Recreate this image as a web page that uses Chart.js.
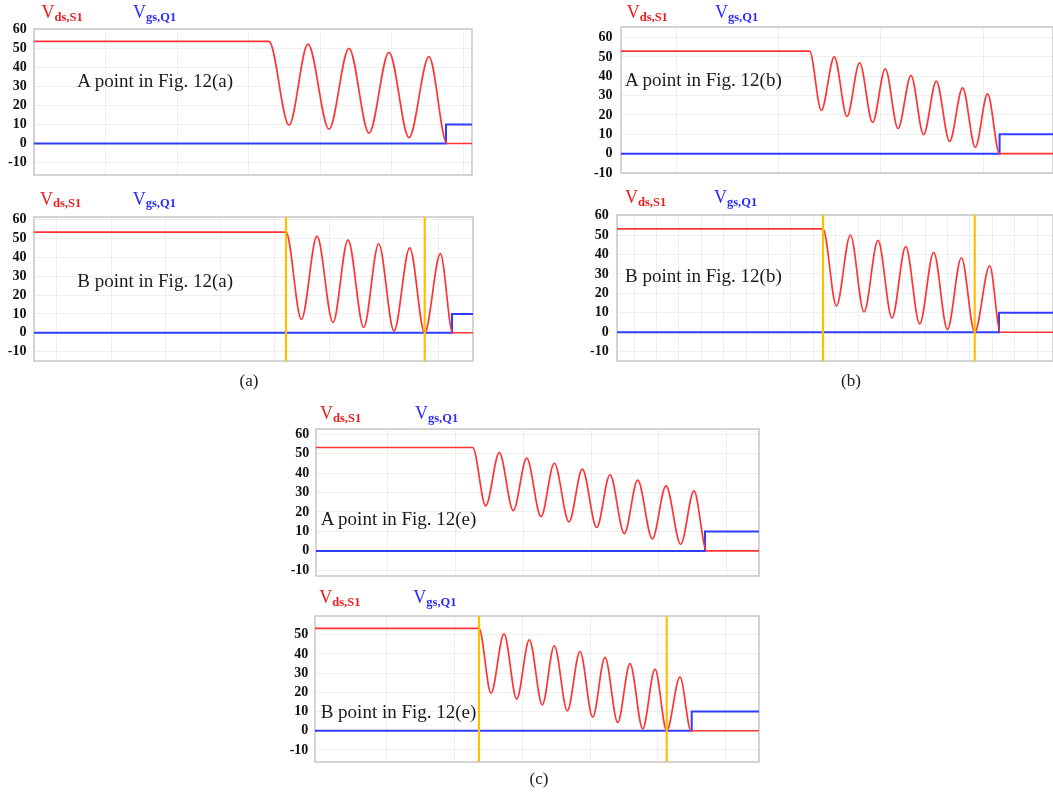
<!DOCTYPE html>
<html>
<head>
<meta charset="utf-8">
<script src="https://cdn.jsdelivr.net/npm/chart.js@4.4.1/dist/chart.umd.min.js"></script>
<style>
html,body{margin:0;padding:0;background:#fff;}
body{width:1053px;height:795px;position:relative;overflow:hidden;font-family:"Liberation Serif","Times New Roman",serif;}
canvas{position:absolute;}
.t{position:absolute;white-space:nowrap;}
.sb{font-size:12.5px;font-weight:bold;position:relative;top:2.5px;line-height:0;}
</style>
</head>
<body>
<script>
// ---------- data (time in arbitrary units from the left edge of each plot, voltage in V) ----------
const yTickValues = [-10, 0, 10, 20, 30, 40, 50, 60];

// Panel (a) - A point
const aA_t   = [0, 235, 255, 274, 295, 315, 335, 355, 375, 395, 413, 438];
const aA_vds = [53.5, 53.5, 9.6, 52.1, 7.5, 49.9, 5.4, 47.8, 3.1, 45.5, 0, 0];
const aA_gt  = [0, 412, 412, 438];
const aA_vgs = [0, 0, 10, 10];

// Panel (a) - B point
const aB_t   = [0, 252, 267.4, 283, 299, 314, 329.7, 344.7, 360, 375.7, 390.7, 406.4, 418.7, 439];
const aB_vds = [53.5, 53.5, 7.1, 51.3, 5.5, 49.4, 2.8, 47.3, 0.9, 45.1, 0, 42, 0, 0];
const aB_gt  = [0, 418, 418, 439];
const aB_vgs = [0, 0, 10, 10];
const aB_marks = [252, 390.7];

// Panel (b) - A point
const bA_t   = [0, 188.6, 200.3, 213.3, 226, 238.6, 251.6, 264.3, 277, 290, 302.6, 315.3, 328.6, 341.6, 354.3, 366.6, 378.6, 432];
const bA_vds = [53, 53, 22.4, 50.1, 19.3, 47, 16.2, 43.9, 13, 40.4, 9.8, 37.5, 6.4, 34, 3.3, 30.9, 0, 0];
const bA_gt  = [0, 378.6, 378.6, 432];
const bA_vgs = [0, 0, 10, 10];

// Panel (b) - B point
const bB_t   = [0, 206, 219.4, 233.4, 247, 261, 275, 288.7, 302.7, 316.7, 330.4, 344.4, 357.7, 372.7, 383.4, 436];
const bB_vds = [53.2, 53.2, 13.5, 50, 10.4, 47.2, 7.3, 44, 4.3, 41.1, 1.4, 38.3, 0, 34.2, 0, 0];
const bB_gt  = [0, 382, 382, 436];
const bB_vgs = [0, 0, 10, 10];
const bB_marks = [206, 357.7];

// Panel (c) - A point
const cA_t   = [0, 156.7, 169.7, 183.3, 197.3, 210.7, 225, 238.3, 253, 266.3, 280.7, 294, 308.3, 321.7, 336.3, 350, 364.7, 378, 390.7, 443];
const cA_vds = [53.1, 53.1, 23.1, 50.5, 20.7, 47.6, 17.6, 45, 14.9, 42, 12, 39.1, 8.9, 36.3, 6.2, 33.4, 3.4, 30.8, 0, 0];
const cA_gt  = [0, 389, 389, 443];
const cA_vgs = [0, 0, 10, 10];

// Panel (c) - B point
const cB_t   = [0, 164, 176, 189, 201.7, 214.3, 227.3, 239.3, 252.3, 265, 277.7, 290, 302.7, 315, 327.7, 340, 351.7, 365, 376, 444];
const cB_vds = [53.4, 53.4, 19.6, 50.5, 16.5, 47.4, 13.5, 44.3, 10.4, 41.3, 7.1, 38.2, 4.3, 35, 1, 32.1, 0, 28, 0, 0];
const cB_gt  = [0, 376.7, 376.7, 444];
const cB_vgs = [0, 0, 10, 10];
const cB_marks = [164, 351.7];

const vdsLabel = 'V<span class="sb">ds,S1</span>';
const vgsLabel = 'V<span class="sb">gs,Q1</span>';

// ---------- drawing ----------
const RED = '#ff3434', BLUE = '#2f3dff', YEL = '#ffbe00', GRID = '#efefef';

const boxPlugin = {
  id: 'box',
  beforeDatasetsDraw(chart) {
    const a = chart.chartArea, c = chart.ctx;
    c.save();
    c.strokeStyle = '#c6c6c6';
    c.lineWidth = 1.5;
    c.strokeRect(a.left, a.top, a.right - a.left, a.bottom - a.top);
    c.restore();
  }
};

function zip(xs, ys) { return xs.map((x, i) => ({ x: x, y: ys[i] })); }

function panel(p) {
  const padT = 20, padB = 20;
  const axisW = p.left - p.cx;
  const cw = p.right - p.cx + p.padR;
  const ch = (p.bottom - p.top) + padT + padB;
  const cv = document.createElement('canvas');
  cv.width = cw; cv.height = ch;
  cv.style.left = p.cx + 'px';
  cv.style.top = (p.top - padT) + 'px';
  cv.style.width = cw + 'px';
  cv.style.height = ch + 'px';
  document.body.appendChild(cv);

  const W = p.t[p.t.length - 1];
  const datasets = [];
  (p.marks || []).forEach(m => {
    datasets.push({ data: [{ x: m, y: p.ymin }, { x: m, y: p.ymax }], borderColor: YEL, borderWidth: 2.2,
      pointRadius: 0, tension: 0, order: 0 });
  });
  datasets.push({ data: zip(p.t, p.vds), borderColor: RED, borderWidth: 1.7, pointRadius: 0,
    cubicInterpolationMode: 'monotone', order: 1 });
  datasets.push({ data: zip(p.gt, p.vgs), borderColor: BLUE, borderWidth: 2, pointRadius: 0,
    tension: 0, order: 2 });

  new Chart(cv, {
    type: 'line',
    data: { datasets: datasets },
    options: {
      responsive: false,
      animation: false,
      events: [],
      layout: { autoPadding: false, padding: { top: padT, bottom: padB, left: 0, right: p.padR } },
      plugins: { legend: { display: false }, tooltip: { enabled: false } },
      scales: {
        x: {
          type: 'linear', min: 0, max: W,
          border: { display: false },
          grid: { color: GRID, lineWidth: 1, drawTicks: false },
          ticks: { display: false },
          afterBuildTicks: s => {
            const t = [];
            for (let v = p.gOff; v < W; v += p.gStep) t.push({ value: v });
            s.ticks = t;
          },
          afterFit: s => { s.height = 0; }
        },
        y: {
          min: p.ymin, max: p.ymax,
          border: { display: false },
          grid: { color: GRID, lineWidth: 1, drawTicks: false },
          ticks: {
            color: '#111', padding: p.tp,
            font: { family: '"Liberation Serif", "Times New Roman", serif', size: 14, weight: 'bold' }
          },
          afterBuildTicks: s => {
            s.ticks = yTickValues.filter(v => v >= s.min - 1e-9 && v <= s.max + 1e-9).map(v => ({ value: v }));
          },
          afterFit: s => { s.width = axisW; }
        }
      }
    },
    plugins: [boxPlugin]
  });
}

function txt(x, base, fs, html, color, center) {
  const d = document.createElement('div');
  d.className = 't';
  d.style.left = x + 'px';
  d.style.top = (base - 0.8375 * fs) + 'px';
  d.style.fontSize = fs + 'px';
  d.style.lineHeight = fs + 'px';
  d.style.color = color;
  if (center) d.style.transform = 'translateX(-50%)';
  d.innerHTML = html;
  document.body.appendChild(d);
}

panel({ cx: 0,   left: 34,  right: 472, top: 29,  bottom: 175, padR: 2, ymin: -16.5, ymax: 60,   tp: 7.3,
        t: aA_t, vds: aA_vds, gt: aA_gt, vgs: aA_vgs, gOff: 0, gStep: 71.5 });
panel({ cx: 0,   left: 34,  right: 473, top: 217, bottom: 361, padR: 2, ymin: -15,   ymax: 61.5, tp: 7.5,
        t: aB_t, vds: aB_vds, gt: aB_gt, vgs: aB_vgs, marks: aB_marks, gOff: 22.7, gStep: 54.5 });
panel({ cx: 580, left: 621, right: 1053, top: 27, bottom: 173, padR: 0, ymin: -10,  ymax: 65.5, tp: 8.4,
        t: bA_t, vds: bA_vds, gt: bA_gt, vgs: bA_vgs, gOff: 55.3, gStep: 102.3 });
panel({ cx: 580, left: 617, right: 1053, top: 215, bottom: 361, padR: 0, ymin: -14.8, ymax: 60.3, tp: 8.3,
        t: bB_t, vds: bB_vds, gt: bB_gt, vgs: bB_vgs, marks: bB_marks, gOff: 17, gStep: 22.4 });
panel({ cx: 280, left: 316, right: 759, top: 429, bottom: 576, padR: 2, ymin: -12.9, ymax: 62.6, tp: 6.7,
        t: cA_t, vds: cA_vds, gt: cA_gt, vgs: cA_vgs, gOff: 71.7, gStep: 67.8 });
panel({ cx: 280, left: 315, right: 759, top: 616, bottom: 762, padR: 2, ymin: -16.3, ymax: 59.8, tp: 6.7,
        t: cB_t, vds: cB_vds, gt: cB_gt, vgs: cB_vgs, marks: cB_marks, gOff: 71.7, gStep: 67.8 });

// series labels
const TRED = '#ee1c1c', TBLUE = '#2b2bff', TXT = '#1a1a1a';
[[41.5, 18.3, 133], [40, 205, 132.7], [626.7, 18.3, 715], [625, 203.3, 714], [320, 419.3, 415], [319.3, 603.3, 413.3]]
  .forEach(r => { txt(r[0], r[1], 18, vdsLabel, TRED); txt(r[2], r[1], 18, vgsLabel, TBLUE); });

// annotations
txt(77.3, 87.3, 19, 'A point in Fig. 12(a)', TXT);
txt(77.3, 286.7, 19, 'B point in Fig. 12(a)', TXT);
txt(625, 86, 19, 'A point in Fig. 12(b)', TXT);
txt(625, 281.7, 19, 'B point in Fig. 12(b)', TXT);
txt(320.7, 525, 19, 'A point in Fig. 12(e)', TXT);
txt(320.7, 718.3, 19, 'B point in Fig. 12(e)', TXT);

// captions
txt(249, 386, 17, '(a)', TXT, true);
txt(851, 386, 17, '(b)', TXT, true);
txt(539, 784, 17, '(c)', TXT, true);
</script>
</body>
</html>
